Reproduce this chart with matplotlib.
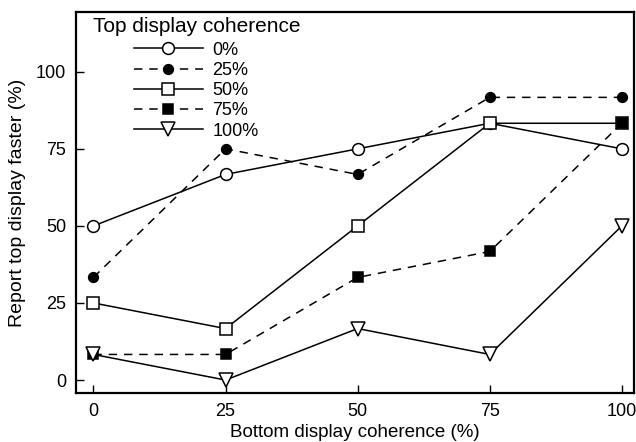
import matplotlib
matplotlib.use('Agg')
import matplotlib.pyplot as plt

plt.rcParams['font.family'] = ['Liberation Sans', 'DejaVu Sans']

# bottom display coherence (%)
bottom = [0, 25, 50, 75, 100]

# percent of trials reporting the top display as faster, per top coherence
top_0 = [50.0, 66.7, 75.0, 83.3, 75.0]
top_25 = [33.3, 75.0, 66.7, 91.7, 91.7]
top_50 = [25.0, 16.7, 50.0, 83.3, 83.3]
top_75 = [8.3, 8.3, 33.3, 41.7, 83.3]
top_100 = [8.3, 0.0, 16.7, 8.3, 50.0]

labels = ['0%', '25%', '50%', '75%', '100%']
yticks = [0, 25, 50, 75, 100]

fig = plt.figure(figsize=(6.36, 4.42), dpi=100)
ax = fig.add_axes([0.1195, 0.1109, 0.8774, 0.862])

dash = (0, (5.5, 4.5))
styles = [
    dict(ls='-', marker='o', mfc='white', ms=8.5),
    dict(ls=dash, marker='o', mfc='black', ms=7),
    dict(ls='-', marker='s', mfc='white', ms=8.5),
    dict(ls=dash, marker='s', mfc='black', ms=7),
    dict(ls='-', marker='v', mfc='white', ms=10),
]
series = [top_0, top_25, top_50, top_75, top_100]

handles = []
for ys, st, lab in zip(series, styles, labels):
    ln, = ax.plot(bottom, ys, color='black', lw=1.1, mec='black', mew=1.1,
                  label=lab, clip_on=False, **st)
    handles.append(ln)

ax.set_xlim(-3.3, 102.3)
ax.set_ylim(-4.2, 119.4)
ax.set_xticks(bottom)
ax.set_yticks(yticks)
ax.tick_params(direction='in', length=6, width=1.0, labelsize=13, pad=7)
for s in ax.spines.values():
    s.set_linewidth(1.6)

ax.set_xlabel('Bottom display coherence (%)', fontsize=13.5, labelpad=3)
ax.set_ylabel('Report top display faster (%)', fontsize=14, labelpad=7)

# legend: title placed separately so the entries sit indented under it
ax.text(0.031, 0.963, 'Top display coherence', transform=ax.transAxes,
        fontsize=15, ha='left', va='center')
leg = ax.legend(handles=handles, loc='upper left',
                bbox_to_anchor=(0.104, 0.922), frameon=False,
                fontsize=13, handlelength=3.8, handletextpad=0.55,
                labelspacing=0.18, borderpad=0, borderaxespad=0)

fig.savefig('out.png', dpi=100)
